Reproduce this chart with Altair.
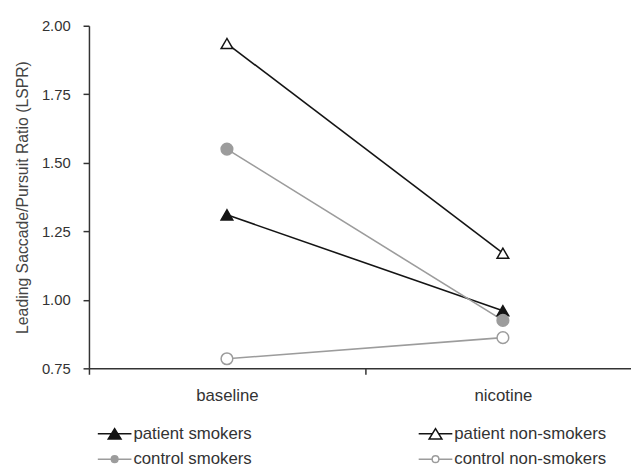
import altair as alt
import pandas as pd

conditions = ["baseline", "nicotine"]
groups = ["patient smokers", "patient non-smokers", "control smokers", "control non-smokers"]
patient_smokers = [1.31, 0.96]
patient_non_smokers = [1.935, 1.17]
control_smokers = [1.55, 0.925]
control_non_smokers = [0.785, 0.862]
y_ticks = [0.75, 1.00, 1.25, 1.50, 1.75, 2.00]

line_colors = ["#141414", "#141414", "#9c9c9c", "#9c9c9c"]
fill_colors = ["#141414", "#ffffff", "#9c9c9c", "#ffffff"]
point_shapes = ["triangle-up", "triangle-up", "circle", "circle"]
point_sizes = [140, 140, 50, 50]

# legend entries are laid out column by column
legend_groups = ["patient smokers", "control smokers", "patient non-smokers", "control non-smokers"]
legend_line_colors = ["#141414", "#9c9c9c", "#141414", "#9c9c9c"]
legend_fill_colors = ["#141414", "#9c9c9c", "#ffffff", "#ffffff"]
legend_shapes = [
    "M-1.42,0H1.42M-0.54,0.44L0.54,0.44L0,-0.44Z",
    "M-1.42,0H-0.28M0.28,0H1.42M-0.28,0A0.28,0.28 0 1,0 0.28,0A0.28,0.28 0 1,0 -0.28,0Z",
    "M-1.42,0H-0.27M0.27,0H1.42M-0.54,0.44L0.54,0.44L0,-0.44Z",
    "M-1.42,0H-0.28M0.28,0H1.42M-0.28,0A0.28,0.28 0 1,0 0.28,0A0.28,0.28 0 1,0 -0.28,0Z",
]

series = [patient_smokers, patient_non_smokers, control_smokers, control_non_smokers]
rows = []
for g, vals in zip(groups, series):
    for c, v in zip(conditions, vals):
        rows.append({"group": g, "condition": c, "value": v})
df = pd.DataFrame(rows)

x_enc = alt.X(
    "condition:N",
    sort=conditions,
    scale=alt.Scale(type="band", domain=conditions, range=[0, 559], paddingInner=0, paddingOuter=0),
    axis=alt.Axis(
        title=None, labelAngle=0, tickBand="extent", tickSize=6, labelPadding=14,
        labelFontSize=17, labelColor="#333333", domainColor="#333333", tickColor="#333333",
        domainWidth=1.5, tickWidth=1.5, grid=False,
    ),
)
y_enc = alt.Y(
    "value:Q",
    scale=alt.Scale(domain=[0.75, 2.0], nice=False, zero=False),
    axis=alt.Axis(
        values=y_ticks, format=".2f", tickSize=6, labelPadding=13, labelFontSize=15,
        labelColor="#333333", domainColor="#333333", tickColor="#333333",
        domainWidth=1.5, tickWidth=1.5, grid=False,
        title="Leading Saccade/Pursuit Ratio (LSPR)", titleFontSize=16,
        titleFontWeight="normal", titleColor="#444444", titleX=-59, titleY=173.5,
    ),
)

base = alt.Chart(df)

lines = base.mark_line(strokeWidth=1.6).encode(
    x=x_enc, y=y_enc,
    stroke=alt.Stroke("group:N", scale=alt.Scale(domain=groups, range=line_colors), legend=None),
)

points = base.mark_point(filled=True, opacity=1, strokeWidth=1.5).encode(
    x=x_enc, y=y_enc,
    shape=alt.Shape("group:N", scale=alt.Scale(domain=groups, range=point_shapes), legend=None),
    fill=alt.Fill("group:N", scale=alt.Scale(domain=groups, range=fill_colors), legend=None),
    stroke=alt.Stroke("group:N", scale=alt.Scale(domain=groups, range=line_colors), legend=None),
    size=alt.Size("group:N", scale=alt.Scale(domain=groups, range=point_sizes), legend=None),
)

leg = alt.Legend(
    title=None, orient="none", legendX=13, legendY=400, columns=2, columnPadding=165,
    rowPadding=4, symbolSize=576, labelFontSize=17, labelColor="#333333", labelOffset=6,
    padding=0, symbolStrokeWidth=1.5, labelLimit=300,
)

legend_layer = base.transform_filter("false").mark_point(filled=True, opacity=1, strokeWidth=1.5).encode(
    x=x_enc, y=y_enc,
    shape=alt.Shape("group:N", scale=alt.Scale(domain=legend_groups, range=legend_shapes), legend=leg),
    fill=alt.Fill("group:N", scale=alt.Scale(domain=legend_groups, range=legend_fill_colors), legend=leg),
    stroke=alt.Stroke("group:N", scale=alt.Scale(domain=legend_groups, range=legend_line_colors), legend=leg),
)

chart = alt.layer(lines, points, legend_layer).resolve_scale(
    shape="independent", fill="independent", stroke="independent", size="independent"
).properties(
    width=549, height=347,
    padding={"left": 82, "top": 15, "right": 0, "bottom": 100},
    autosize=alt.AutoSizeParams(type="none"),
).configure(font="Liberation Sans").configure_view(stroke=None)

chart.save("out.html", embed_options={"renderer": "svg", "actions": False})
